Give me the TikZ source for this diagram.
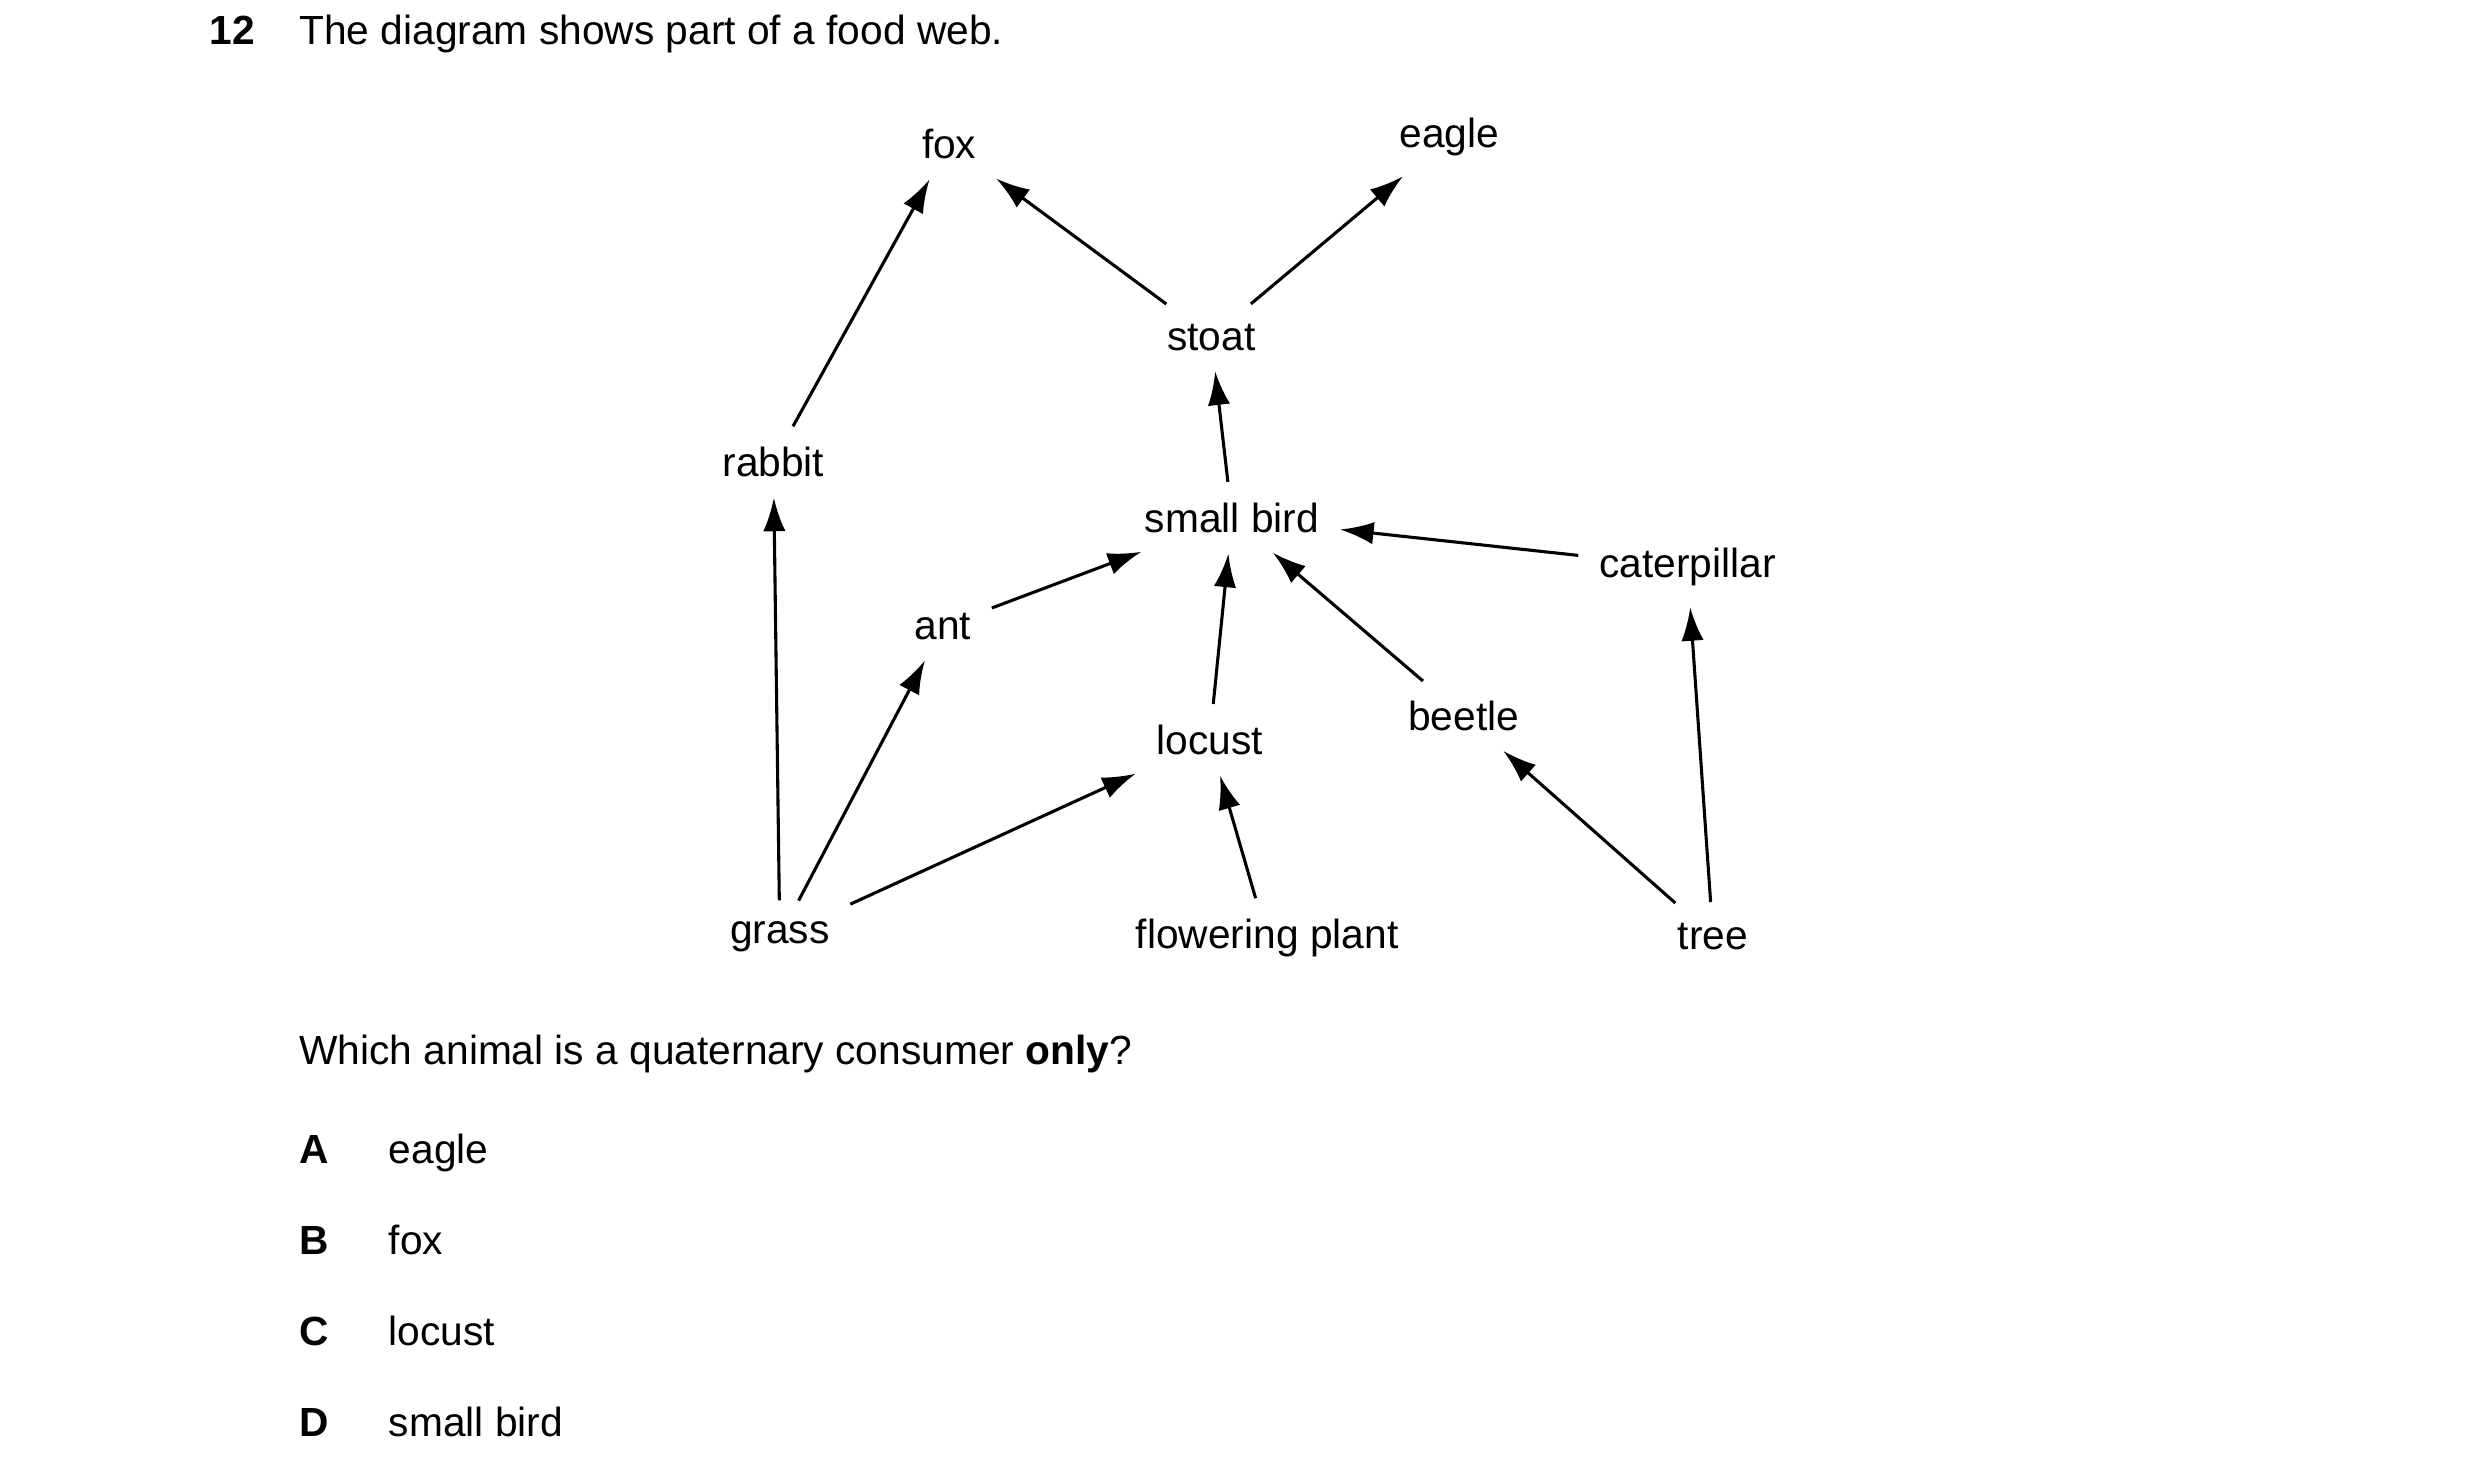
\documentclass[tikz,border=0pt]{standalone}
\usepackage{fontspec}
\setmainfont{Liberation Sans}
\usetikzlibrary{arrows.meta}
\begin{document}
\begin{tikzpicture}[x=0.02cm,y=-0.02cm,
  sp/.style={font=\fontsize{14.5}{17}\selectfont, inner sep=0.22cm},
  tx/.style={font=\fontsize{14.5}{17}\selectfont, inner sep=0pt, anchor=base west},
  ar/.style={line width=1.1pt, -{Latex[length=0.42cm,width=0.28cm]}, shorten <=1pt, shorten >=1pt}]
\useasboundingbox (0,0) rectangle (1552,916);
\node[tx, font=\fontsize{14.5}{17}\selectfont\bfseries] (num) at (131,28) {12};
\node[tx] (title) at (187,28) {The diagram shows part of a food web.};
\node[sp] (fox) at (594,90) {fox};
\node[sp] (eagle) at (907,86) {eagle};
\node[sp] (stoat) at (758,211) {stoat};
\node[sp] (rabbit) at (484,289) {rabbit};
\node[sp] (bird) at (771,324) {small bird};
\node[sp] (cat) at (1056,355) {caterpillar};
\node[sp] (ant) at (590,392) {ant};
\node[sp] (locust) at (757,463) {locust};
\node[sp] (beetle) at (916,448) {beetle};
\node[sp] (grass) at (488,586) {grass};
\node[sp] (plant) at (793,587) {flowering plant};
\node[sp] (tree) at (1072,586) {tree};
\draw[ar] (rabbit) -- (fox);
\draw[ar] (stoat) -- (fox);
\draw[ar] (stoat) -- (eagle);
\draw[ar] (bird) -- (stoat);
\draw[ar] (cat) -- (bird);
\draw[ar] (ant) -- (bird);
\draw[ar] (locust) -- (bird);
\draw[ar] (beetle) -- (bird);
\draw[ar] (grass) -- (rabbit);
\draw[ar] (grass) -- (ant);
\draw[ar] (grass) -- (locust);
\draw[ar] (plant) -- (locust);
\draw[ar] (tree) -- (beetle);
\draw[ar] (tree) -- (cat);
\node[tx] (q) at (187,666) {Which animal is a quaternary consumer \textbf{only}?};
\node[tx, font=\fontsize{14.5}{17}\selectfont\bfseries] (la) at (187,728) {A};
\node[tx] (a) at (243,728) {eagle};
\node[tx, font=\fontsize{14.5}{17}\selectfont\bfseries] (lb) at (187,785) {B};
\node[tx] (b) at (243,785) {fox};
\node[tx, font=\fontsize{14.5}{17}\selectfont\bfseries] (lc) at (187,842) {C};
\node[tx] (c) at (243,842) {locust};
\node[tx, font=\fontsize{14.5}{17}\selectfont\bfseries] (ld) at (187,899) {D};
\node[tx] (d) at (243,899) {small bird};
\end{tikzpicture}
\end{document}
